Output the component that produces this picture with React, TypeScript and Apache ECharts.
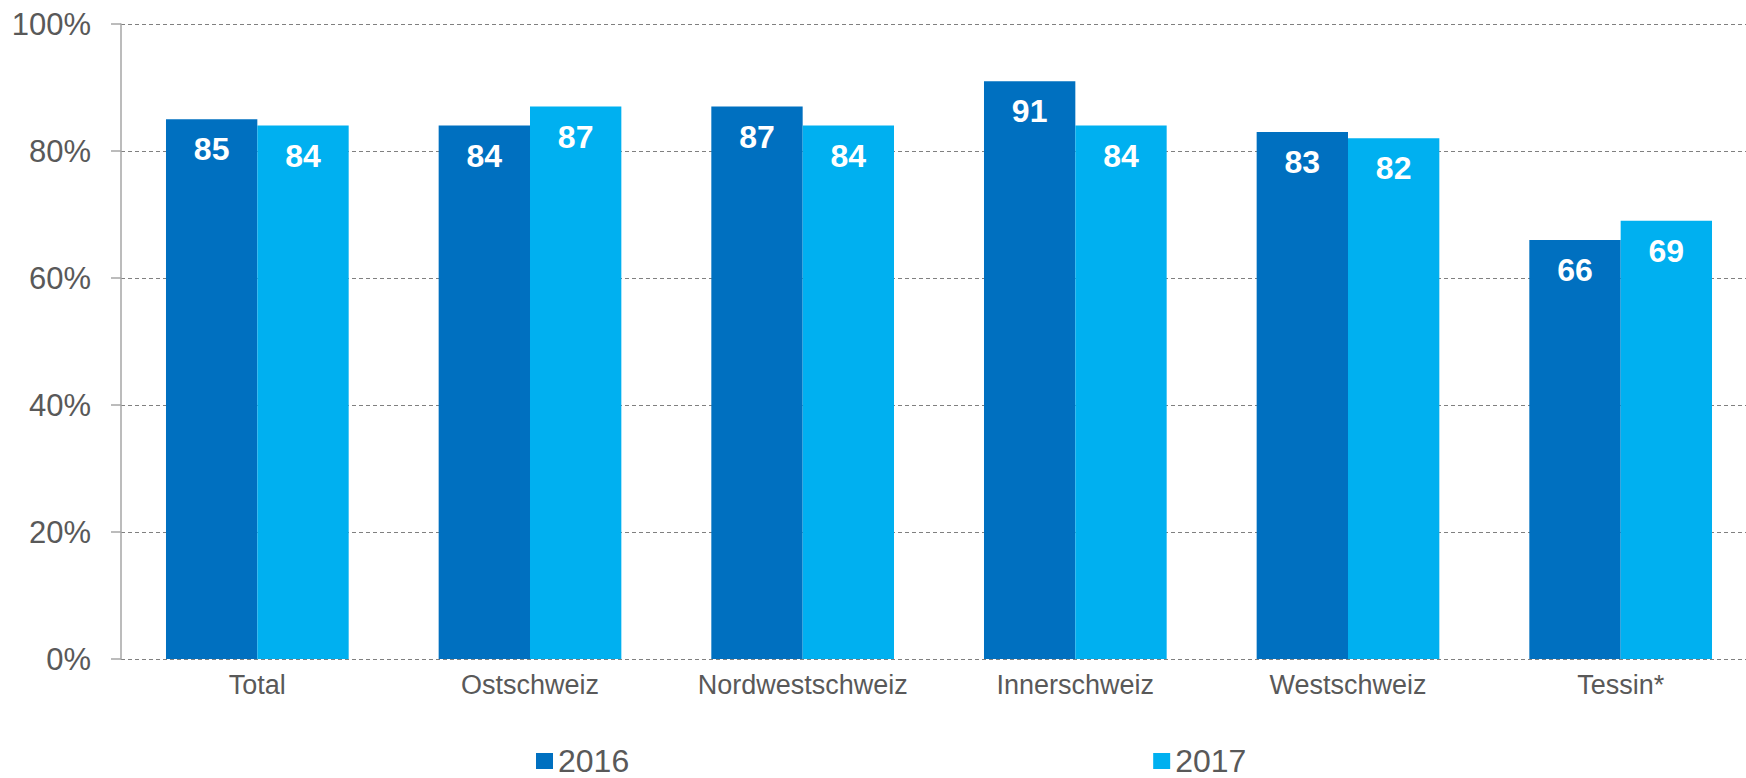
import React, { useEffect, useRef } from "react";
import * as echarts from "echarts";

const categories = ["Total", "Ostschweiz", "Nordwestschweiz", "Innerschweiz", "Westschweiz", "Tessin*"];
const values2016 = [85, 84, 87, 91, 83, 66];
const values2017 = [84, 87, 84, 84, 82, 69];
const seriesNames = ["2016", "2017"];
const yTicks = [0, 20, 40, 60, 80, 100];

export default function App() {
  const ref = useRef<HTMLDivElement>(null);
  useEffect(() => {
    if (!ref.current) return;
    const chart = echarts.init(ref.current, undefined, { renderer: "svg" });
    const textColor = "#595959";
    const labelStyle = {
      show: true,
      position: "insideTop",
      distance: 14,
      color: "#ffffff",
      fontWeight: "bold",
      fontSize: 32,
      fontFamily: "Liberation Sans, Arial, sans-serif",
    };
    chart.setOption({
      animation: false,
      backgroundColor: "#ffffff",
      textStyle: { fontFamily: "Liberation Sans, Arial, sans-serif" },
      grid: { left: 121, right: 0, top: 24, bottom: 119, containLabel: false },
      legend: {
        data: seriesNames,
        left: 531,
        top: 740,
        icon: "rect",
        itemWidth: 17,
        itemHeight: 16,
        itemGap: 524,
        textStyle: { fontSize: 32, lineHeight: 32, color: textColor, fontFamily: "Liberation Sans, Arial, sans-serif" },
      },
      xAxis: {
        type: "category",
        data: categories,
        axisLine: { show: false },
        axisTick: { show: false },
        axisLabel: { color: textColor, fontSize: 27, margin: 12, interval: 0 },
      },
      yAxis: {
        type: "value",
        min: yTicks[0],
        max: yTicks[yTicks.length - 1],
        interval: 20,
        axisLine: { show: true, lineStyle: { color: "#a6a6a6", width: 1.5 } },
        axisTick: { show: true, length: 10, lineStyle: { color: "#a6a6a6", width: 1.5 } },
        axisLabel: { color: textColor, fontSize: 31, margin: 30, formatter: "{value}%" },
        splitLine: { show: true, lineStyle: { color: "#808080", type: [4, 3], width: 1 } },
      },
      series: [
        {
          name: seriesNames[0],
          type: "bar",
          data: values2016,
          barGap: "0%",
          barCategoryGap: "33%",
          itemStyle: { color: "#0070C0" },
          label: labelStyle,
        },
        {
          name: seriesNames[1],
          type: "bar",
          data: values2017,
          barGap: "0%",
          barCategoryGap: "33%",
          itemStyle: { color: "#00B0F0" },
          label: labelStyle,
        },
      ],
    });
    return () => chart.dispose();
  }, []);
  return (
    <div
      style={{ position: "absolute", left: 0, top: 0, width: 1746, height: 778, overflow: "hidden", background: "#fff" }}
    >
      <div ref={ref} style={{ width: 1757, height: 778 }} />
    </div>
  );
}
